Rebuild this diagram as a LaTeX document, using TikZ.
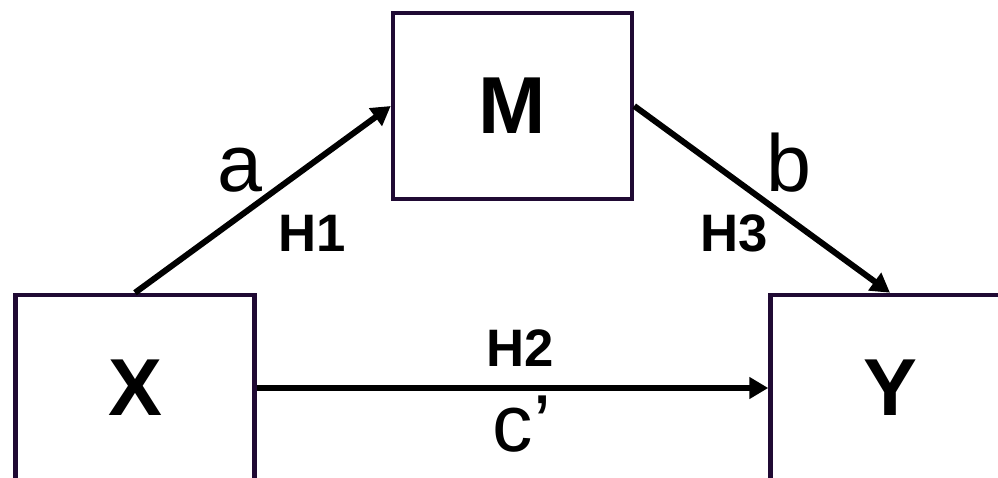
\documentclass[tikz,border=0pt]{standalone}
\usepackage{fontspec}
\setmainfont{Liberation Sans}
\usetikzlibrary{arrows.meta,positioning}
\definecolor{boxcol}{RGB}{32,10,52}
\tikzset{
  var/.style={
    shape = rectangle,
    draw = boxcol,
    line width = 0.09cm,
    minimum width = 4.78cm,
    minimum height = 3.72cm,
    inner sep = 0pt,
    font = \fontsize{46}{46}\selectfont\bfseries
  },
  path/.style={
    line width = 0.12cm,
    -{Triangle[length=0.38cm,width=0.42cm]}
  },
  coef/.style={
    anchor = base,
    inner sep = 0pt,
    font = \fontsize{46}{46}\selectfont
  },
  hyp/.style={
    anchor = base,
    inner sep = 0pt,
    font = \fontsize{30}{30}\selectfont\bfseries
  }
}
\begin{document}
\begin{tikzpicture}
\clip (0,0) rectangle (19.96,9.56);
\node[var] (M) at (10.25,7.44) {M};
\node[var] (X) at (2.7,1.8) {X};
\node[var] (Y) at (17.8,1.8) {Y};
% paths
\draw[path] (X.north) -- (M.west);
\draw[path] (M.east) -- (Y.north);
\draw[path] (X.east) -- (Y.west);
% coefficients and hypotheses
\node[coef] (a) at (4.8,5.72) {a};
\node[coef] (b) at (15.78,5.72) {b};
\node[coef] (c) at (10.44,0.52) {c’};
\node[hyp] (h1) at (6.24,4.52) {H1};
\node[hyp] (h2) at (10.4,2.22) {H2};
\node[hyp] (h3) at (14.68,4.52) {H3};
\end{tikzpicture}
\end{document}
